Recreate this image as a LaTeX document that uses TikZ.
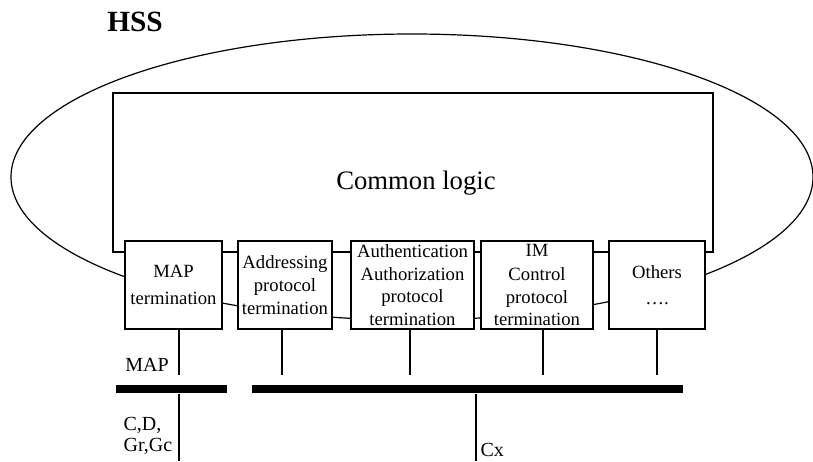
\documentclass[tikz,border=0pt]{standalone}
\usepackage{fontspec}
\setmainfont{Liberation Serif}
\usetikzlibrary{shapes.geometric}

\tikzset{
	blk/.style={draw, fill=white, minimum height=66pt, inner sep=1pt, align=center, font=\fontsize{14}{17}\selectfont},
	bus/.style={fill=black, inner sep=0pt, minimum height=6pt},
	lbl/.style={inner sep=0pt, font=\fontsize{15}{16}\selectfont}
}

\begin{document}
\begin{tikzpicture}[x=0.75pt, y=-0.75pt, line width=0.9pt]
	\useasboundingbox (0,0) rectangle (813,461);

	\node [ellipse, draw, minimum width=601.5pt, minimum height=214.5pt, inner sep=0pt] (v0) at (412,177) {};
	\node [font=\fontsize{22}{24}\selectfont\bfseries] at (135,22) {HSS};

	\node [draw, fill=white, minimum width=450pt, minimum height=119.25pt] (v1) at (413,172.5) {};
	\node [font=\fontsize{20}{22}\selectfont] at (416,183) {Common logic};

	\node [blk, minimum width=72.75pt] (v2) at (173.5,285) {MAP\\[3pt]termination};
	\node [blk, minimum width=70.5pt] (v3) at (285,285) {Addressing\\protocol\\termination};
	\node [blk, minimum width=92.25pt] (v4) at (412.5,285) {Authentication\\Authorization\\protocol\\termination};
	\node [blk, minimum width=84pt] (v5) at (537,285) {IM\\[1pt]Control\\protocol\\termination};
	\node [blk, minimum width=72pt] (v6) at (657,285) {Others\\[2pt]\dots.};

	\node [bus, minimum width=83.25pt] (v7) at (171.5,389) {};
	\node [bus, minimum width=323.25pt] (v8) at (467.5,389) {};

	\coordinate (s2) at (179,375);
	\coordinate (s3) at (282,375);
	\coordinate (s4) at (410,375);
	\coordinate (s5) at (543,375);
	\coordinate (s6) at (657,375);
	\draw (s2 |- v2.south) -- (s2);
	\draw (s3 |- v3.south) -- (s3);
	\draw (s4 |- v4.south) -- (s4);
	\draw (s5 |- v5.south) -- (s5);
	\draw (s6 |- v6.south) -- (s6);

	\coordinate (e1) at (179,461);
	\coordinate (e2) at (476,461);
	\draw (e1 |- v7.south) -- (e1);
	\draw (e2 |- v8.south) -- (e2);

	\node [lbl] at (147,365) {MAP};
	\node [lbl, anchor=west, align=left] at (123,436) {C,D,\\Gr,Gc};
	\node [lbl, anchor=west] at (480,450) {Cx};

%\node at (413,440) {interfaces};
\end{tikzpicture}
\end{document}
